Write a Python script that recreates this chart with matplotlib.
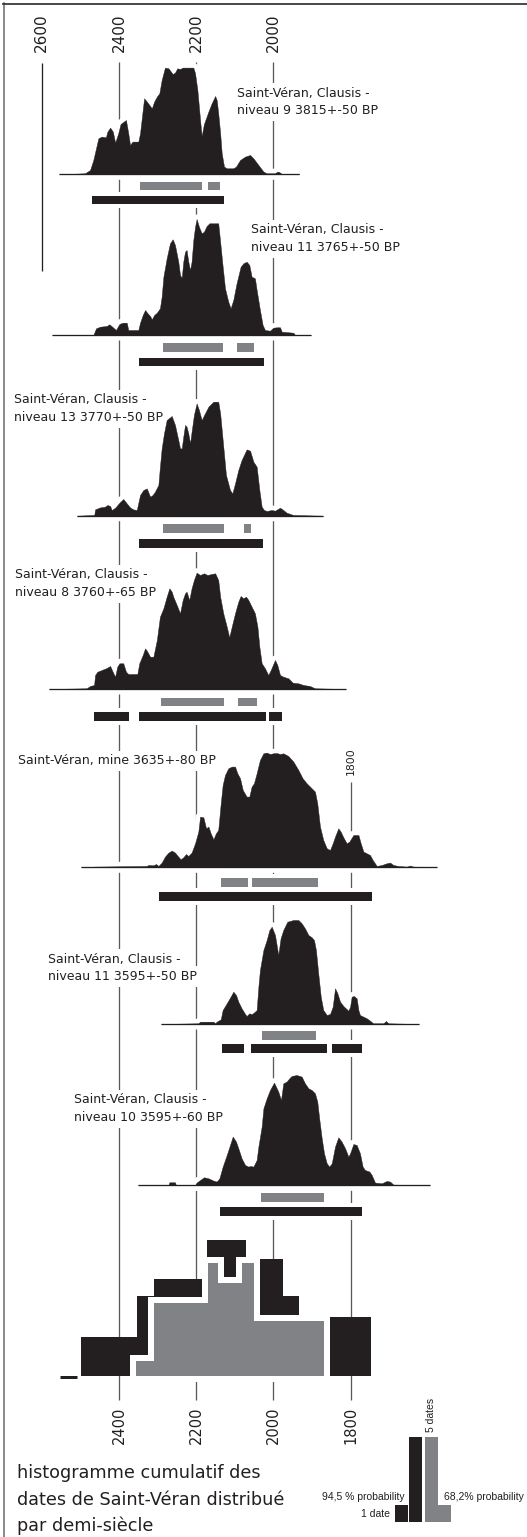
import numpy as np
import matplotlib
matplotlib.use("Agg")
import matplotlib.pyplot as plt

# ---------------------------------------------------------------- data
top_ticks = [2600, 2400, 2200, 2000]
bottom_ticks = [2400, 2200, 2000, 1800]
side_tick = 1800

# calibrated probability distributions (years cal BC, relative probability)
c1_years = [2555, 2488, 2475, 2466.5, 2453.5, 2445, 2434, 2430, 2423, 2416,
            2410, 2402, 2396, 2382, 2376, 2371.5, 2365, 2350, 2345.5, 2335,
            2328, 2315, 2309, 2302, 2295.5, 2289.5, 2281, 2272, 2261, 2255,
            2249, 2242, 2235, 2207.5, 2203, 2197, 2190, 2186, 2180, 2168.5,
            2160, 2151, 2147, 2143, 2138, 2134, 2128, 2121, 2104, 2097,
            2086.5, 2073.5, 2060.5, 2052, 2039, 2026, 2017.5, 2007, 1996, 1990,
            1985, 1978.5, 1933]
c1_prob = [0, 1, 4.3, 14.3, 36, 37.7, 37, 42.7, 46.7, 42.7,
           31.7, 41, 50.3, 54.3, 41, 29.3, 32.7, 32.7, 41, 76,
           72.7, 66, 72.7, 77.7, 81, 94.3, 106.7, 106, 100.3, 101.7,
           106, 105.3, 106.7, 106.7, 101, 84.3, 54.3, 38.3, 50.3, 62.7,
           71, 78.3, 74.3, 61, 41, 21, 7.7, 6, 6, 7.7,
           14.3, 17.7, 19.3, 16, 9.3, 2.7, 1, 1, 1, 2.7,
           2.3, 0.3, 0]
c1_p68 = [(2345.5, 2186), (2168.5, 2138)]
c1_p95 = [(2471, 2128)]
c1_label = ["Saint-Véran, Clausis -", "niveau 9 3815+-50 BP"]

c2_years = [2572.5, 2466.5, 2459.5, 2449, 2432, 2425, 2414.5, 2408, 2399, 2390.5,
            2380, 2376, 2350, 2345.5, 2338.5, 2332.5, 2326, 2319.5, 2315, 2309,
            2302, 2294, 2289.5, 2285, 2276.5, 2268, 2261, 2255, 2246.5, 2242,
            2237.5, 2233.5, 2229, 2225, 2220.5, 2216, 2212, 2207.5, 2203, 2199,
            2193, 2186, 2180, 2173, 2166, 2143, 2138, 2131.5, 2125.5, 2117,
            2111, 2104, 2095.5, 2085, 2078, 2069.5, 2062.5, 2056.5, 2048, 2043.5,
            2035, 2028, 2022, 2009, 2000.5, 1991.5, 1983, 1978.5, 1948.5, 1944,
            1903.5]
c2_prob = [0, 0, 6.7, 8.3, 9, 10.7, 7.3, 5, 11, 12.3,
           12.3, 5, 5, 12.3, 20, 25, 21.7, 19, 15.7, 20,
           22.3, 26.7, 38.3, 58.3, 76.7, 91.7, 95.7, 90, 73.3, 60,
           57.3, 73.3, 83.3, 85, 73.3, 65, 73.3, 95, 108.3, 116,
           108.3, 101.7, 103.3, 109, 111.7, 111.7, 93.3, 68.3, 46.7, 33.3,
           26.7, 35, 51.7, 68.3, 71.7, 73.3, 70, 58.3, 56.7, 45,
           25, 10, 5, 4.3, 7.3, 7.7, 7.7, 3.3, 2.3, 0,
           0]
c2_p68 = [(2285, 2131.5), (2093.5, 2049.5)]
c2_p95 = [(2347.5, 2024.5)]
c2_label = ["Saint-Véran, Clausis -", "niveau 11 3765+-50 BP"]

c3_years = [2509.5, 2464, 2462, 2449, 2436.5, 2430, 2423, 2419, 2410, 2399,
            2389, 2380, 2371.5, 2363, 2354, 2345.5, 2337, 2328, 2319.5, 2313,
            2307, 2298, 2294, 2289.5, 2283.5, 2276.5, 2263.5, 2255, 2246.5, 2242,
            2237.5, 2233.5, 2229, 2225, 2220.5, 2216, 2212, 2206, 2199, 2193,
            2186, 2177.5, 2168.5, 2155.5, 2143, 2138, 2131.5, 2123, 2112.5, 2106.5,
            2099.5, 2091, 2082.5, 2069.5, 2060.5, 2052, 2043.5, 2036.5, 2030.5, 2024.5,
            2017.5, 2004.5, 1996, 1983, 1974.5, 1966, 1948.5, 1871]
c3_prob = [0, 0.7, 6.3, 8.3, 9, 10.7, 9.7, 5.7, 8, 13,
           16.7, 12.3, 8.3, 6.3, 5.7, 20.7, 25.7, 27.3, 19, 20.7,
           24, 30.7, 49, 67.3, 82.3, 95.7, 99.7, 90.7, 75.7, 67.3,
           67.3, 79, 90.7, 89, 82.3, 72.3, 84, 100.7, 112.3, 105.7,
           95.7, 102.3, 109, 114, 114, 102.3, 75.7, 40.7, 25.7, 22.3,
           32.3, 45.7, 55.7, 66.3, 65, 54, 49, 25.7, 9, 5.7,
           4.7, 5.7, 5, 8, 5.7, 3, 0.7, 0]
c3_p68 = [(2285, 2128), (2075.5, 2058)]
c3_p95 = [(2348, 2026)]
c3_label = ["Saint-Véran, Clausis -", "niveau 13 3770+-50 BP"]

c4_years = [2581.5, 2483.5, 2475, 2464.5, 2462, 2456, 2449, 2440.5, 2433.5, 2423,
            2414.5, 2410, 2404.5, 2399, 2389, 2382, 2376, 2364.5, 2352.5, 2347.5,
            2338.5, 2332.5, 2328, 2319.5, 2311, 2302, 2294, 2285, 2276.5, 2269.5,
            2263.5, 2259.5, 2250.5, 2242, 2235, 2229, 2225, 2218, 2212, 2206,
            2199, 2190, 2180, 2171, 2160, 2151, 2143, 2138, 2130, 2121,
            2114.5, 2108, 2099.5, 2091, 2085, 2078, 2071, 2065, 2056.5, 2048,
            2041.5, 2036.5, 2030.5, 2022, 2013.5, 2007, 1996, 1990, 1983, 1974.5,
            1961.5, 1950, 1935.5, 1922.5, 1905.5, 1892.5, 1813]
c4_prob = [0, 0.7, 3, 4, 14, 17.3, 18.3, 19.7, 20.7, 23,
           15.7, 12.3, 22.3, 25.7, 25.7, 17.3, 15, 15, 15, 25.7,
           34, 40.7, 38.3, 32.3, 32.3, 49, 72.3, 80.7, 92.3, 100.7,
           97.3, 92.3, 84, 75.7, 89, 95.7, 97.3, 89, 100.7, 109,
           116.3, 114, 115.7, 114, 115, 115.7, 109, 92.3, 75.7, 62.3,
           51.7, 62.3, 75.7, 87.3, 93, 90.7, 92.3, 89, 82.3, 75.7,
           62.3, 42.3, 25.7, 20.7, 14, 19, 29, 24, 14, 12.3,
           10.7, 6.3, 5.7, 4, 3, 0.7, 0]
c4_p68 = [(2291, 2127), (2092.5, 2043.5)]
c4_p95 = [(2464.5, 2374), (2349, 2019.5), (2010.5, 1978)]
c4_label = ["Saint-Véran, Clausis -", "niveau 8 3760+-65 BP"]

c5_years = [2498.5, 2462, 2328.5, 2324, 2311, 2304, 2298, 2289.5, 2281, 2272,
            2263.5, 2255, 2246.5, 2240.5, 2233.5, 2226.5, 2220.5, 2212, 2203, 2194.5,
            2190, 2181.5, 2174.5, 2168.5, 2162.5, 2155.5, 2149, 2143, 2136.5, 2131.5,
            2125.5, 2117, 2108, 2099.5, 2093.5, 2086.5, 2079.5, 2069.5, 2062.5, 2056.5,
            2050.5, 2043.5, 2035, 2026, 2017.5, 2009, 2000.5, 1991.5, 1983, 1974.5,
            1961.5, 1948.5, 1935.5, 1924.5, 1914, 1905.5, 1892.5, 1886.5, 1879.5, 1871,
            1862, 1853.5, 1846.5, 1840.5, 1832, 1826, 1819, 1810.5, 1803.5, 1793,
            1780, 1774, 1767, 1758.5, 1750, 1743, 1732.5, 1719.5, 1707, 1698,
            1689.5, 1676.5, 1655, 1646.5, 1637.5, 1577.5]
c5_prob = [0, 0.7, 1.3, 2.3, 2, 3.3, 1.3, 4.7, 10.7, 14.7,
           16.7, 14.7, 10.7, 8, 10, 13.3, 11.3, 14.7, 24, 35.7,
           50.7, 50, 39, 40.7, 34, 28, 34, 37.3, 64, 82.3,
           92.3, 99, 100.7, 100.7, 94, 89, 77.3, 70.7, 70.7, 80.7,
           84, 94, 107.3, 114, 114.7, 113.3, 114, 114.3, 113.3, 114,
           111.3, 105.7, 97.3, 89, 84, 80.7, 75.7, 64, 40.7, 27.3,
           19, 17.3, 24, 30.7, 39, 35.7, 30, 24, 25.7, 32.3,
           32.3, 24, 15.7, 14, 12.3, 7.3, 1.3, 2.3, 4, 4.7,
           2.3, 1.3, 0.7, 1.7, 0.7, 0]
c5_p68 = [(2136.5, 2065), (2056.5, 1884)]
c5_p95 = [(2296.5, 1745.5)]
c5_label = ["Saint-Véran, mine 3635+-80 BP"]

c6_years = [2291, 2194.5, 2190, 2155.5, 2151, 2147, 2136.5, 2131.5, 2121, 2111,
            2104, 2097, 2091, 2082.5, 2073.5, 2069.5, 2062.5, 2056.5, 2048, 2043.5,
            2039, 2035, 2026, 2017.5, 2010.5, 2004.5, 1996, 1987.5, 1981.5, 1974.5,
            1964, 1948.5, 1935.5, 1927, 1918.5, 1909.5, 1901, 1895, 1890, 1884,
            1877.5, 1871, 1862, 1853.5, 1846.5, 1840.5, 1834.5, 1827.5, 1819, 1806,
            1801.5, 1797.5, 1791.5, 1784.5, 1780, 1776, 1767, 1758.5, 1750, 1741.5,
            1715.5, 1708.5, 1702.5, 1623]
c6_prob = [0, 0.7, 2.3, 2.3, 0.7, 2.3, 4.7, 14, 20.7, 27.3,
           32.3, 29, 22.3, 15.7, 10, 8, 10.7, 9.7, 12.3, 14,
           37.3, 54, 74, 84, 94, 97.3, 89, 69, 85.7, 94,
           102.3, 104, 104, 100.7, 95.7, 89, 86.7, 84, 74, 50.7,
           27.3, 14, 9, 10, 17.3, 35.7, 30.7, 22.3, 18, 13.3,
           17.3, 27.3, 28, 25.7, 14, 9, 7.3, 5.7, 3.3, 0.7,
           0.7, 3, 0.7, 0]
c6_p68 = [(2029, 1890.5)]
c6_p95 = [(2133, 2076.5), (2058, 1862), (1849, 1770)]
c6_label = ["Saint-Véran, Clausis -", "niveau 11 3595+-50 BP"]

c7_years = [2350, 2272, 2269.5, 2255, 2252.5, 2203, 2199, 2190, 2180, 2168.5,
            2155.5, 2147, 2140, 2131.5, 2121, 2112.5, 2105.5, 2097, 2091, 2082.5,
            2073.5, 2065, 2059, 2052, 2043.5, 2039, 2030.5, 2026, 2017.5, 2009,
            1998.5, 1987.5, 1980.5, 1974.5, 1966, 1959, 1953, 1940, 1927, 1918.5,
            1909.5, 1901, 1892.5, 1886.5, 1881, 1875, 1869, 1862, 1855.5, 1849,
            1840.5, 1832, 1823.5, 1814.5, 1806, 1801.5, 1793, 1784.5, 1776, 1769,
            1763, 1751.5, 1745.5, 1737, 1719.5, 1707, 1698, 1689.5, 1594.5]
c7_prob = [0, 0, 3, 3, 0, 0.3, 2.7, 5.3, 8, 7,
           4.7, 3.7, 7, 18.7, 30.3, 40.3, 48.7, 43.7, 37, 27,
           20.3, 18.7, 19.3, 18.7, 25.3, 38.7, 58.7, 77, 87, 95.3,
           102.7, 93.7, 85.3, 102, 103.7, 107, 109.3, 110.3, 108.7, 102,
           97, 95.3, 92, 83.7, 65.3, 47, 32, 22, 18.7, 22,
           38.7, 48, 43.7, 37, 28.7, 32, 41.3, 40.3, 32, 18.7,
           15.3, 13.7, 10.3, 2.7, 2, 4.3, 3.7, 0.7, 0]
c7_p68 = [(2032, 1869)]
c7_p95 = [(2138.5, 1770)]
c7_label = ["Saint-Véran, Clausis -", "niveau 10 3595+-60 BP"]

# cumulative histogram (number of dates per half-century)
hist95_edges = [2498.5, 2352.5, 2308.5, 2173, 2072, 1976, 1933, 1747.5]
hist95_dates = [2.27, 4.67, 5.70, 7.97, 6.84, 4.71, 3.45]
hist68_edges = [2356, 2309.5, 2168.5, 2142.5, 2082.5, 2050.5, 1868]
hist68_dates = [0.87, 4.28, 6.61, 5.46, 6.61, 3.23]
hist_empty_bin = [2553, 2508]

legend95_dates = [1, 5]
legend68_dates = [5, 1]

title_lines = ["histogramme cumulatif des",
               "dates de Saint-Véran distribué",
               "par demi-siècle"]

# ---------------------------------------------------------------- layout
W, H, DPI = 527, 1537, 100
PT = 72.0 / DPI                      # points per pixel
PX_PER_YEAR = 231.67 / 600.0
YEAR_AT_LEFT = 2708.2


def px2yr(px):
    return YEAR_AT_LEFT - px / PX_PER_YEAR


INK = "#231f20"
GREY = "#818285"
LINE = "#5a5a5a"
FONT = "DejaVu Sans"

curves = [
    dict(years=c1_years, prob=c1_prob, p68=c1_p68, p95=c1_p95, label=c1_label,
         base=174.3, g=181.7, b=195.7, lx=236.7, ly=96.7),
    dict(years=c2_years, prob=c2_prob, p68=c2_p68, p95=c2_p95, label=c2_label,
         base=335.0, g=343.3, b=357.7, lx=250.7, ly=233.3),
    dict(years=c3_years, prob=c3_prob, p68=c3_p68, p95=c3_p95, label=c3_label,
         base=515.7, g=524.0, b=539.0, lx=14.0, ly=403.3),
    dict(years=c4_years, prob=c4_prob, p68=c4_p68, p95=c4_p95, label=c4_label,
         base=689.0, g=697.7, b=712.3, lx=15.0, ly=578.3),
    dict(years=c5_years, prob=c5_prob, p68=c5_p68, p95=c5_p95, label=c5_label,
         base=867.3, g=878.3, b=892.0, lx=18.3, ly=764.3),
    dict(years=c6_years, prob=c6_prob, p68=c6_p68, p95=c6_p95, label=c6_label,
         base=1024.0, g=1031.0, b=1044.3, lx=48.3, ly=962.7),
    dict(years=c7_years, prob=c7_prob, p68=c7_p68, p95=c7_p95, label=c7_label,
         base=1185.3, g=1193.3, b=1207.3, lx=74.0, ly=1103.3),
]
BAR_H = 8.7
LINE_PITCH = 17.5
CURVE_HALO = 5.0     # px
BAR_HALO = 4.0       # px

HIST_BASE = 1375.7
PX_PER_DATE = 17.0
LEG_BOTTOM = 1521.7

fig = plt.figure(figsize=(W / DPI, H / DPI), dpi=DPI)
ax = fig.add_axes([0, 0, 1, 1])
ax.set_xlim(YEAR_AT_LEFT, px2yr(W))
ax.set_ylim(H, 0)
ax.axis("off")

# frame
ax.plot([px2yr(3.5), px2yr(3.5)], [3, H], color="#707070", lw=1.6 * PT, zorder=6)
ax.plot([px2yr(3.0), px2yr(W)], [4.2, 4.2], color="#3a3a3a", lw=1.8 * PT, zorder=6)

# vertical reference lines
ax.vlines(2600, 63, 271, color=INK, lw=1.3 * PT, zorder=1)
for yr in [2400, 2200, 2000]:
    ax.vlines(yr, 62, 1400, color=LINE, lw=1.3 * PT, zorder=1)
ax.vlines(side_tick, 782, 1400, color=LINE, lw=1.3 * PT, zorder=1)

for yr in top_ticks:
    ax.text(yr, 33, str(yr), rotation=90, ha="center", va="center",
            fontsize=11, color=INK, family=FONT, zorder=5)
for yr in bottom_ticks:
    ax.text(yr, 1425.5, str(yr), rotation=90, ha="center", va="center",
            fontsize=10.5, color=INK, family=FONT, zorder=5)
ax.text(side_tick, 761, str(side_tick), rotation=90, ha="center", va="center",
        fontsize=7.8, color=INK, family=FONT, zorder=5,
        bbox=dict(boxstyle="square,pad=0.2", fc="white", ec="none"))

# curves, bars, labels
for c in curves:
    yrs = np.array(c["years"], dtype=float)
    pr = np.array(c["prob"], dtype=float)
    assert len(yrs) == len(pr)
    base = c["base"]
    top = base - pr
    ax.fill_between(yrs, base, top, facecolor="white", edgecolor="white",
                    linewidth=2 * CURVE_HALO * PT, joinstyle="round", zorder=2)
    ax.fill_between(yrs, base, top, facecolor=INK, edgecolor=INK,
                    linewidth=0.3, zorder=3)
    ax.plot([yrs.max(), yrs.min()], [base, base], color="white",
            lw=2 * CURVE_HALO * PT, zorder=2)
    ax.plot([yrs.max(), yrs.min()], [base, base], color=INK,
            lw=1.3 * PT, zorder=3.5, solid_capstyle="butt")

    for rows, ytop, col in [(c["p68"], c["g"], GREY), (c["p95"], c["b"], INK)]:
        for (a, b) in rows:
            left, width = min(a, b), abs(a - b)
            ax.barh(ytop + BAR_H / 2, width, left=left, height=BAR_H,
                    color="white", edgecolor="white",
                    linewidth=2 * BAR_HALO * PT, zorder=2.2)
            ax.barh(ytop + BAR_H / 2, width, left=left, height=BAR_H,
                    color=col, edgecolor="none", zorder=3)

    for i, line in enumerate(c["label"]):
        ax.text(px2yr(c["lx"]), c["ly"] + i * LINE_PITCH, line,
                ha="left", va="baseline", fontsize=9, color=INK, family=FONT,
                zorder=2.5,
                bbox=dict(boxstyle="square,pad=0.3", fc="white", ec="none"))

# cumulative histogram
e95 = np.array(hist95_edges, dtype=float)
v95 = np.array(hist95_dates + [hist95_dates[-1]], dtype=float)
ax.fill_between(e95, HIST_BASE, HIST_BASE - v95 * PX_PER_DATE, step="post",
                facecolor=INK, edgecolor="none", zorder=3)
e68 = np.array(hist68_edges, dtype=float)
v68 = np.array(hist68_dates + [hist68_dates[-1]], dtype=float)
ax.fill_between(e68, HIST_BASE, HIST_BASE - v68 * PX_PER_DATE, step="post",
                facecolor="white", edgecolor="white", linewidth=12 * PT,
                joinstyle="miter", zorder=3.2)
ax.fill_between(e68, HIST_BASE, HIST_BASE - v68 * PX_PER_DATE, step="post",
                facecolor=GREY, edgecolor="none", zorder=3.3)
ax.plot(hist_empty_bin, [HIST_BASE + 1.5] * 2, color=INK, lw=3 * PT,
        solid_capstyle="butt", zorder=3)

# legend
LEG_W = 12.6
leg95_px = [401.5, 415.3]
leg68_px = [431.3, 444.3]
for px, d in zip(leg95_px, legend95_dates):
    ax.bar(px2yr(px), -d * PX_PER_DATE, width=LEG_W / PX_PER_YEAR,
           bottom=LEG_BOTTOM, color=INK, edgecolor="none", zorder=3)
for px, d in zip(leg68_px, legend68_dates):
    ax.bar(px2yr(px), -d * PX_PER_DATE, width=(LEG_W + 0.7) / PX_PER_YEAR,
           bottom=LEG_BOTTOM, color=GREY, edgecolor="none", zorder=3)

LEGFONT = ["Liberation Sans", "DejaVu Sans"]
ax.text(px2yr(405), 1500, "94,5 % probability", ha="right", va="baseline",
        fontsize=7.5, color=INK, family=LEGFONT)
ax.text(px2yr(390), 1516.7, "1 date", ha="right", va="baseline",
        fontsize=7.5, color=INK, family=LEGFONT)
ax.text(px2yr(444), 1500, "68,2% probability", ha="left", va="baseline",
        fontsize=7.5, color=INK, family=LEGFONT)
ax.text(px2yr(431.3), 1432, "5 dates", rotation=90, ha="center", va="bottom",
        fontsize=7.5, color=INK, family=LEGFONT)

# title
for i, (line, yb) in enumerate(zip(title_lines, [1478.5, 1505.0, 1531.0])):
    ax.text(px2yr(16.7), yb, line, ha="left", va="baseline",
            fontsize=12.7, color=INK, family=FONT)

fig.savefig("out.png", dpi=DPI)
